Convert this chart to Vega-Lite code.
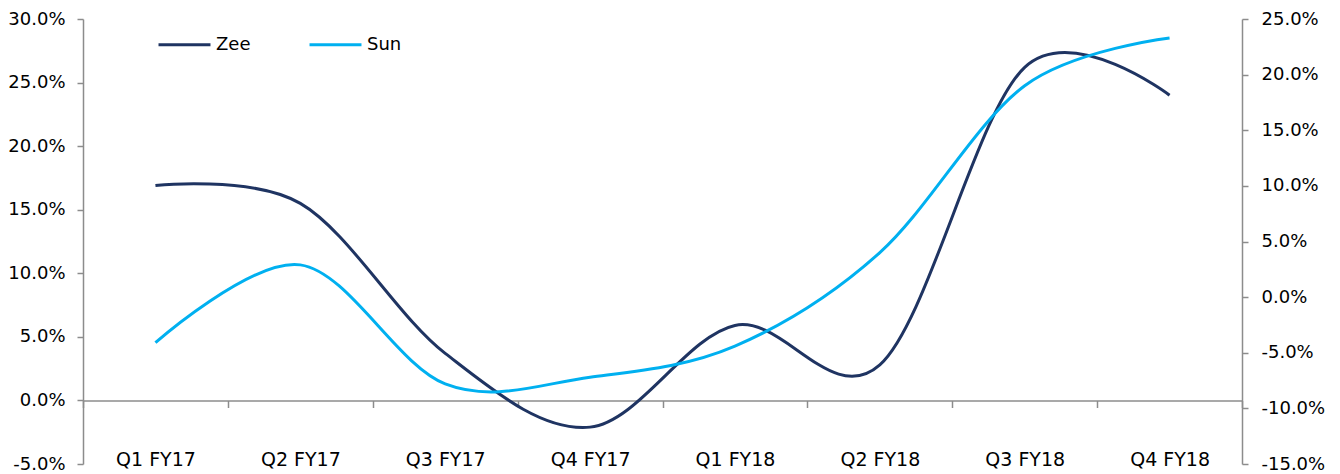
{
  "$schema": "https://vega.github.io/schema/vega-lite/v6.json",
  "width": 1159,
  "height": 445,
  "autosize": {"type": "none"},
  "padding": {"left": 83, "top": 19, "right": 98, "bottom": 10},
  "background": "white",
  "config": {
    "view": {"stroke": null},
    "font": "DejaVu Sans",
    "axis": {"grid": false, "labelFont": "DejaVu Sans", "labelFontSize": 18, "labelColor": "#000000", "domainColor": "#8C8C8C", "tickColor": "#8C8C8C", "domainWidth": 1.5, "tickWidth": 1.5, "title": null}
  },
  "data": {
    "values": [
      {"q": "Q1 FY17", "s": "Zee", "v": 0.169},
      {"q": "Q2 FY17", "s": "Zee", "v": 0.155},
      {"q": "Q3 FY17", "s": "Zee", "v": 0.037},
      {"q": "Q4 FY17", "s": "Zee", "v": -0.021},
      {"q": "Q1 FY18", "s": "Zee", "v": 0.059},
      {"q": "Q2 FY18", "s": "Zee", "v": 0.028},
      {"q": "Q3 FY18", "s": "Zee", "v": 0.262},
      {"q": "Q4 FY18", "s": "Zee", "v": 0.240},
      {"q": "Q1 FY17", "s": "Sun", "v": -0.041},
      {"q": "Q2 FY17", "s": "Sun", "v": 0.029},
      {"q": "Q3 FY17", "s": "Sun", "v": -0.078},
      {"q": "Q4 FY17", "s": "Sun", "v": -0.072},
      {"q": "Q1 FY18", "s": "Sun", "v": -0.044},
      {"q": "Q2 FY18", "s": "Sun", "v": 0.040},
      {"q": "Q3 FY18", "s": "Sun", "v": 0.190},
      {"q": "Q4 FY18", "s": "Sun", "v": 0.233}
    ]
  },
  "encoding": {
    "x": {
      "field": "q", "type": "ordinal", "sort": null, "bandPosition": 0.5,
      "scale": {"type": "band", "paddingInner": 0, "paddingOuter": 0},
      "axis": {"orient": "bottom", "offset": -63.5, "tickBand": "extent", "tickSize": 7, "labelPadding": 43, "labelAngle": 0, "labelAlign": "center", "labelFontSize": 19}
    },
    "color": {
      "field": "s", "type": "nominal",
      "scale": {"domain": ["Zee", "Sun"], "range": ["#1F3462", "#00B0F0"]},
      "legend": {"title": null, "orient": "none", "legendX": 74, "legendY": -2, "direction": "horizontal", "symbolType": "stroke", "symbolSize": 2700, "symbolStrokeWidth": 3, "labelFontSize": 18, "labelFont": "DejaVu Sans", "labelColor": "#000000", "labelOffset": 4, "columnPadding": 52}
    }
  },
  "layer": [
    {
      "transform": [{"filter": "datum.s === 'Zee'"}],
      "mark": {"type": "line", "interpolate": "cardinal", "tension": 0, "strokeWidth": 3},
      "encoding": {
        "y": {"field": "v", "type": "quantitative", "scale": {"domain": [-0.05, 0.30], "nice": false, "zero": false},
          "axis": {"orient": "left", "values": [-0.05, 0, 0.05, 0.1, 0.15, 0.2, 0.25, 0.3], "labelExpr": "replace(format(datum.value, '.1%'), '\u2212', '-')", "tickSize": 6, "labelPadding": 12}}
      }
    },
    {
      "transform": [{"filter": "datum.s === 'Sun'"}],
      "mark": {"type": "line", "interpolate": "cardinal", "tension": 0, "strokeWidth": 3},
      "encoding": {
        "y": {"field": "v", "type": "quantitative", "scale": {"domain": [-0.15, 0.25], "nice": false, "zero": false},
          "axis": {"orient": "right", "values": [-0.15, -0.1, -0.05, 0, 0.05, 0.1, 0.15, 0.2, 0.25], "labelExpr": "replace(format(datum.value, '.1%'), '\u2212', '-')", "tickSize": 6, "labelPadding": 13}}
      }
    }
  ],
  "resolve": {"scale": {"y": "independent"}}
}
